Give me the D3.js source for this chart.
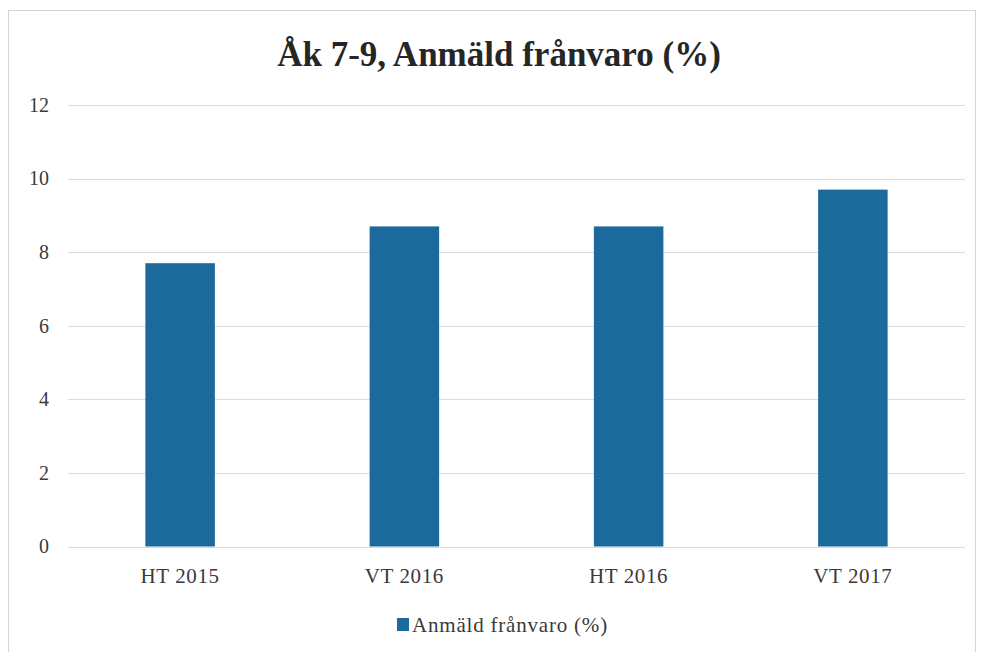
<!DOCTYPE html>
<html>
<head>
<meta charset="utf-8">
<script src="https://cdn.jsdelivr.net/npm/d3@7"></script>
<style>
  body { margin: 0; background: #fff; }
  svg text { font-family: 'Liberation Serif', 'Times New Roman', Times, 'DejaVu Serif', serif !important; }
</style>
</head>
<body>
<div id="chart"></div>
<script>
const categories = ['HT 2015', 'VT 2016', 'HT 2016', 'VT 2017'];
const values = [7.7, 8.7, 8.7, 9.7];
const yTicks = [0, 2, 4, 6, 8, 10, 12];
const title = 'Åk 7-9, Anmäld frånvaro (%)';
const seriesName = 'Anmäld frånvaro (%)';

const width = 981;
const height = 652;
const margin = { top: 105, right: 16, bottom: 106, left: 68 };
const barColor = '#1c6a9c';

const svg = d3.select('#chart')
  .append('svg')
  .attr('width', width)
  .attr('height', height);

// outer frame
svg.append('rect')
  .attr('x', 8.5).attr('y', 10.5)
  .attr('width', 967).attr('height', 650)
  .attr('fill', 'none')
  .attr('stroke', '#d4d4d4');

const x = d3.scaleBand()
  .domain(categories)
  .range([margin.left, width - margin.right])
  .paddingInner(0.69)
  .paddingOuter(0.345);

const y = d3.scaleLinear()
  .domain([0, 12])
  .range([height - margin.bottom + 0.5, margin.top]);

// gridlines
svg.append('g')
  .selectAll('line')
  .data(yTicks)
  .enter()
  .append('line')
  .attr('x1', margin.left)
  .attr('x2', width - margin.right)
  .attr('y1', d => Math.round(y(d)) + 0.5)
  .attr('y2', d => Math.round(y(d)) + 0.5)
  .attr('stroke', '#dcdcdc')
  .attr('stroke-width', 1);

// y axis labels
const yAxis = svg.append('g')
  .attr('transform', `translate(${margin.left - 19},0)`)
  .call(d3.axisLeft(y).tickValues(yTicks).tickSize(0).tickPadding(0));
yAxis.attr('font-family', null);
yAxis.select('.domain').remove();
yAxis.selectAll('text')
  .attr('font-size', 20)
  .attr('fill', '#3a3a3a');

// bars
svg.append('g')
  .selectAll('rect')
  .data(values)
  .enter()
  .append('rect')
  .attr('x', (d, i) => x(categories[i]))
  .attr('width', x.bandwidth())
  .attr('y', d => y(d))
  .attr('height', d => y(0) - y(d))
  .attr('fill', barColor);

// x axis labels
const xAxis = svg.append('g')
  .attr('transform', `translate(0,${height - margin.bottom})`)
  .call(d3.axisBottom(x).tickSize(0).tickPadding(22));
xAxis.attr('font-family', null);
xAxis.select('.domain').remove();
xAxis.selectAll('text')
  .attr('font-size', 21)
  .attr('letter-spacing', 0.6)
  .attr('fill', '#3a3a3a');

// title
svg.append('text')
  .attr('x', 499)
  .attr('y', 66)
  .attr('text-anchor', 'middle')
  .attr('font-size', 35)
  .attr('font-weight', 'bold')
  .attr('fill', '#262626')
  .text(title);

// legend
const legend = svg.append('g').attr('transform', 'translate(397,618)');
legend.append('rect')
  .attr('width', 12).attr('height', 13)
  .attr('fill', barColor);
legend.append('text')
  .attr('x', 15)
  .attr('y', 14)
  .attr('font-size', 21)
  .attr('letter-spacing', 0.8)
  .attr('fill', '#3a3a3a')
  .text(seriesName);
</script>
</body>
</html>
